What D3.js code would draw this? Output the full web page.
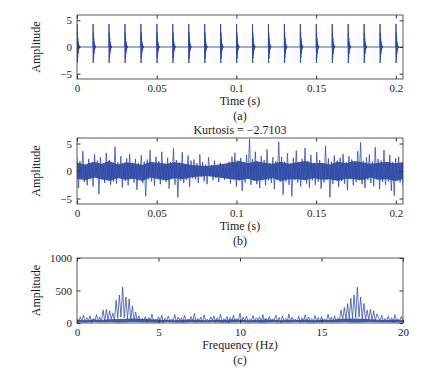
<!DOCTYPE html>
<html>
<head>
  <meta charset="utf-8">
  <title>Impulse signal, noisy signal and its spectrum</title>
  <script src="https://d3js.org/d3.v7.min.js"></script>
  <style>
    body { margin: 0; background: #fff; }
    text { font-family: "Liberation Serif", "Times New Roman", serif; fill: #1a1a1a; }
  </style>
</head>
<body>
<script>
  const width = 425, height = 376
  const lineColor = '#2c48a5'
  const plotLeft = 77, plotRight = 403

  // (a) periodic impulses, one every 0.01 s
  const impulseTimes = [0, 0.01, 0.02, 0.03, 0.04, 0.05, 0.06, 0.07, 0.08, 0.09, 0.1,
    0.11, 0.12, 0.13, 0.14, 0.15, 0.16, 0.17, 0.18, 0.19, 0.2]
  // one impulse response, samples 0.1 ms apart
  const impulseShape = [0, 4.3, -3.0, 2.7, -2.1, 1.7, -1.3, 1.0, -0.8, 0.6, -0.5, 0.4,
    -0.3, 0.25, -0.2, 0.15, -0.1, 0.05, 0]
  const sampleStep = 0.0001
  const recordLength = 0.2045

  // (b) impulses buried in noise: spiky samples and the dense core band
  const noisySignal = [
    2.4, -3.1, 1.8, -1.2, 3.6, -2.0, 0.9, -2.6, 2.2, -1.5, 1.3, -2.8, 3.0, -0.8, 1.9, -4.2, 2.5, -1.6, 1.1, -2.2,
    3.3, -1.4, 2.0, -2.5, 1.2, -1.9, 4.4, -2.3, 1.6, -1.1, 2.7, -3.0, 1.0, -1.8, 2.3, -2.6, 3.1, -1.3, 1.5, -2.1,
    2.2, -3.4, 1.4, -1.0, 2.9, -2.2, 1.7, -4.6, 2.1, -1.5, 3.8, -1.9, 1.2, -2.7, 2.6, -1.2, 1.8, -2.4, 3.5, -1.7,
    1.3, -2.0, 2.4, -3.2, 1.6, -1.4, 4.1, -2.5, 2.0, -4.8, 1.5, -1.8, 3.4, -2.2, 1.1, -1.6, 2.8, -2.9, 1.9, -1.3,
    2.1, -1.5, 1.4, -2.2, 3.0, -1.1, 1.6, -1.9, 1.2, -2.4, 2.5, -1.0, 1.1, -1.7, 1.9, -1.3, 0.9, -2.0, 1.5, -1.2,
    1.2, -1.6, 0.8, -1.4, 1.7, -2.3, 2.6, -1.5, 3.3, -2.8, 1.9, -1.7, 2.4, -3.6, 1.6, -2.1, 2.9, -1.4, 5.8, -2.5,
    2.2, -1.8, 3.5, -2.4, 1.5, -3.1, 2.7, -1.3, 2.0, -2.6, 3.9, -1.7, 1.4, -2.2, 2.5, -3.3, 1.8, -1.5, 5.3, -2.0,
    2.6, -4.3, 1.7, -1.9, 3.2, -2.5, 1.3, -4.6, 2.4, -1.6, 3.7, -2.1, 1.6, -2.8, 2.2, -1.4, 4.2, -2.3, 1.8, -3.0,
    2.9, -1.7, 1.5, -2.5, 3.4, -1.9, 2.0, -3.2, 1.4, -2.1, 4.5, -1.6, 2.3, -4.8, 1.7, -2.4, 2.8, -1.5, 1.9, -2.9,
    2.4, -1.8, 3.1, -2.3, 1.6, -3.5, 2.7, -1.4, 2.1, -2.6, 1.5, -2.0, 3.6, -1.7, 5.2, -2.4, 1.8, -3.1, 2.5, -1.6,
    3.0, -2.2, 1.7, -2.8, 4.3, -1.5, 2.2, -3.3, 1.9, -2.0, 3.8, -2.5, 1.4, -1.9, 2.9, -3.6, 1.6, -4.5, 2.3, -1.8,
    2.6, -2.1, 1.5, -2.7
  ]
  const noiseCoreHigh = [1.5, 1.2, 1.7, 1.3, 1.8, 1.2, 1.6, 1.4, 1.1, 1.7, 1.5, 1.3, 1.6, 1.4, 1.1, 1.0, 0.9, 1.1,
    1.3, 1.6, 1.8, 1.4, 1.8, 1.5, 1.3, 1.7, 1.3, 1.6, 1.8, 1.4, 1.5, 1.2, 1.7, 1.4, 1.8, 1.6, 1.3, 1.5, 1.7, 1.4, 1.6]
  const noiseCoreLow = [-1.4, -1.7, -1.2, -1.5, -1.8, -1.3, -1.6, -1.4, -1.8, -1.2, -1.5, -1.7, -1.3, -1.5, -1.2,
    -1.0, -0.9, -1.1, -1.3, -1.5, -1.7, -1.4, -1.8, -1.6, -1.3, -1.8, -1.5, -1.5, -1.7, -1.3, -1.6, -1.5, -1.8, -1.4,
    -1.5, -1.7, -1.2, -1.6, -1.5, -1.8, -1.5]
  const kurtosisLabel = 'Kurtosis = \u22122.7103'

  // (c) spectrum, 0.1 Hz per bin, plus the dense noise floor band
  const spectrum = [
    60, 10, 95, 30, 120, 15, 80, 40, 110, 5, 70, 35, 130, 20, 90, 25,
    200, 30, 210, 45, 190, 60, 150, 40, 350, 70, 430, 90, 550, 80, 400, 60, 370, 50, 260, 40, 170, 30,
    110, 20, 70, 45, 100, 10, 85, 30, 140, 15, 60, 40, 95, 25, 120, 5, 75, 35, 105, 20,
    65, 30, 130, 10, 90, 45, 80, 15, 115, 25, 55, 40, 100, 20, 145, 10, 70, 35, 90, 15,
    125, 30, 60, 20, 95, 40, 110, 10, 80, 25, 135, 15, 65, 35, 100, 5, 85, 30, 120, 20,
    70, 40, 150, 15, 90, 25, 105, 10, 60, 35, 115, 20, 80, 45, 95, 10, 130, 25, 75, 30,
    100, 15, 65, 40, 120, 20, 85, 5, 110, 30, 70, 25, 140, 15, 90, 35, 60, 20, 105, 10,
    80, 30, 125, 20, 95, 40, 70, 15, 115, 25, 85, 10, 100, 35, 65, 20, 135, 30, 90, 15,
    110, 25, 75, 40,
    200, 40, 240, 50, 300, 60, 380, 70, 430, 80, 550, 90, 400, 60, 300, 40, 200, 50, 210, 40, 190, 30, 140,
    90, 25, 120, 15, 70, 35, 105, 20, 80, 10, 130, 30, 65, 40, 100, 20
  ]
  const floorHigh = [50, 42, 55, 46, 58, 60, 65, 68, 62, 56, 50, 46, 42, 50, 54, 46, 42, 50, 46, 54, 50,
    42, 46, 54, 50, 42, 50, 46, 54, 42, 50, 46, 58, 64, 68, 64, 56, 50, 46, 54, 44]
  const floorLow = [12, 8, 15, 10, 14, 8, 12, 15, 10, 12, 8, 14, 11, 8, 15, 12, 10, 14, 8, 12, 15,
    10, 12, 8, 14, 11, 10, 15, 12, 8, 14, 10, 12, 15, 8, 12, 14, 10, 12, 8, 11]
  const freqStep = 0.1
  const freqMax = 20

  const timeTicks = [0, 0.05, 0.1, 0.15, 0.2]
  const ampTicks = [-5, 0, 5]
  const freqTicks = [0, 5, 10, 15, 20]
  const specTicks = [0, 500, 1000]

  // build the point series
  const seriesA = []
  impulseTimes.forEach(t0 => {
    impulseShape.forEach((v, j) => seriesA.push([t0 + j * sampleStep, v]))
  })
  seriesA.push([recordLength, 0])
  const seriesB = noisySignal.map((v, i) => [i * recordLength / (noisySignal.length - 1), v])
  const bandB = noiseCoreHigh.map((v, i) => [i * recordLength / (noiseCoreHigh.length - 1), noiseCoreLow[i], v])
  const seriesC = spectrum.map((v, i) => [i * freqStep, v])
  const bandC = floorHigh.map((v, i) => [i * freqMax / (floorHigh.length - 1), floorLow[i], v])

  const svg = d3.select('body')
    .append('svg')
    .attr('width', width)
    .attr('height', height)

  const panels = [
    { id: 'a', data: seriesA, xDomain: [0, recordLength], yDomain: [-6, 6], top: 15, bottom: 79,
      xTicks: timeTicks, yTicks: ampTicks, xLabel: 'Time (s)', tag: '(a)', lw: 0.9 },
    { id: 'b', data: seriesB, band: bandB, xDomain: [0, recordLength], yDomain: [-6, 6], top: 138, bottom: 204,
      xTicks: timeTicks, yTicks: ampTicks, xLabel: 'Time (s)', tag: '(b)', title: kurtosisLabel, lw: 0.75 },
    { id: 'c', data: seriesC, band: bandC, xDomain: [0, freqMax], yDomain: [0, 1000], top: 258, bottom: 323,
      xTicks: freqTicks, yTicks: specTicks, xLabel: 'Frequency (Hz)', tag: '(c)', lw: 0.75 }
  ]

  const fmt = d3.format('')
  const tickLen = 3.5

  panels.forEach(p => {
    const x = d3.scaleLinear().domain(p.xDomain).range([plotLeft, plotRight])
    const y = d3.scaleLinear().domain(p.yDomain).range([p.bottom, p.top])
    const g = svg.append('g')

    g.append('clipPath')
      .attr('id', 'clip-' + p.id)
      .append('rect')
      .attr('x', plotLeft)
      .attr('y', p.top)
      .attr('width', plotRight - plotLeft)
      .attr('height', p.bottom - p.top)

    const plot = g.append('g').attr('clip-path', `url(#clip-${p.id})`)

    if (p.band) {
      plot.append('path')
        .datum(p.band)
        .attr('fill', lineColor)
        .attr('fill-opacity', 0.9)
        .attr('d', d3.area().x(d => x(d[0])).y0(d => y(d[1])).y1(d => y(d[2])))
    }

    plot.append('path')
      .datum(p.data)
      .attr('fill', 'none')
      .attr('stroke', lineColor)
      .attr('stroke-width', p.lw)
      .attr('d', d3.line().x(d => x(d[0])).y(d => y(d[1])))

    // box with inward ticks on all sides
    const axes = [
      [d3.axisBottom(x).tickValues(p.xTicks).tickFormat(fmt), `translate(0,${p.bottom})`],
      [d3.axisTop(x).tickValues(p.xTicks).tickFormat(''), `translate(0,${p.top})`],
      [d3.axisLeft(y).tickValues(p.yTicks).tickFormat(fmt), `translate(${plotLeft},0)`],
      [d3.axisRight(y).tickValues(p.yTicks).tickFormat(''), `translate(${plotRight},0)`]
    ]
    axes.forEach(([ax, tr]) => {
      const a = g.append('g')
        .attr('transform', tr)
        .call(ax.tickSizeInner(-tickLen).tickSizeOuter(0).tickPadding(5))
      a.select('.domain').remove()
      a.selectAll('line').attr('stroke', '#333')
      a.selectAll('text')
        .attr('font-size', 11)
        .attr('font-family', '"Liberation Serif", serif')
        .attr('fill', '#1a1a1a')
    })

    g.append('rect')
      .attr('x', plotLeft)
      .attr('y', p.top)
      .attr('width', plotRight - plotLeft)
      .attr('height', p.bottom - p.top)
      .attr('fill', 'none')
      .attr('stroke', '#333')
      .attr('stroke-width', 0.8)

    const cx = (plotLeft + plotRight) / 2
    g.append('text')
      .attr('x', cx)
      .attr('y', p.bottom + 26)
      .attr('text-anchor', 'middle')
      .attr('font-size', 12)
      .text(p.xLabel)
    g.append('text')
      .attr('x', cx)
      .attr('y', p.bottom + 41)
      .attr('text-anchor', 'middle')
      .attr('font-size', 12)
      .text(p.tag)
    if (p.title) {
      g.append('text')
        .attr('x', cx)
        .attr('y', p.top - 4)
        .attr('text-anchor', 'middle')
        .attr('font-size', 12)
        .text(p.title)
    }
    g.append('text')
      .attr('transform', `translate(40,${(p.top + p.bottom) / 2}) rotate(-90)`)
      .attr('text-anchor', 'middle')
      .attr('font-size', 12)
      .text('Amplitude')
  })
</script>
</body>
</html>
